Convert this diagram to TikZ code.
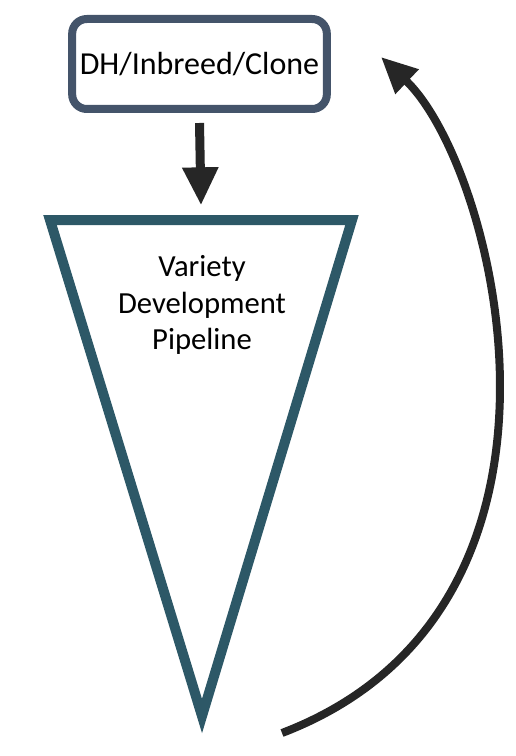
\documentclass[tikz,border=0pt]{standalone}
\usepackage{fontspec}
\setmainfont{Carlito}
\usetikzlibrary{arrows.meta}

\definecolor{boxslate}{HTML}{44546A}
\definecolor{funnelteal}{HTML}{2D5867}
\definecolor{arrowdark}{HTML}{262626}

\tikzset{
  sourcebox/.style={draw=boxslate, line width=6pt, rounded corners=11pt, fill=white,
    minimum width=191pt, minimum height=67.5pt, inner sep=0pt,
    font=\fontsize{24}{29}\selectfont},
  funnel/.style={draw=funnelteal, line width=7.5pt, line join=miter},
  funneltext/.style={align=center, font=\fontsize{23}{27.4}\selectfont},
  feedarrow/.style={draw=arrowdark, line width=6.75pt, -{Triangle[length=28.5pt, width=25.5pt]}},
  looparrow/.style={draw=arrowdark, line width=6pt, -{Triangle[length=27pt, width=24pt]}}
}

\begin{document}
\begin{tikzpicture}[x=0.75pt, y=-0.75pt]
	\useasboundingbox (0,0) rectangle (516,756);

	\node[sourcebox] (source) at (199.5,64) {DH/Inbreed/Clone};

	\coordinate (funnelleft) at (50,220);
	\coordinate (funnelright) at (352,220);
	\coordinate (funneltip) at (202,716);
	\coordinate (funneltop) at (201,220);
	\draw[funnel] (funnelleft) -- (funnelright) -- (funneltip) -- cycle;
	\node[funneltext] (pipeline) at (202,305) {Variety\\Development\\Pipeline};

	\draw[feedarrow] ([yshift=-7.5pt]source.south) -- ([yshift=11pt]funneltop);

	\coordinate (loopstart) at (282,733);
	\coordinate (loopend) at (381,57);
	\draw[looparrow] (loopstart) .. controls (609,608) and (495,165) .. (loopend);
\end{tikzpicture}
\end{document}
